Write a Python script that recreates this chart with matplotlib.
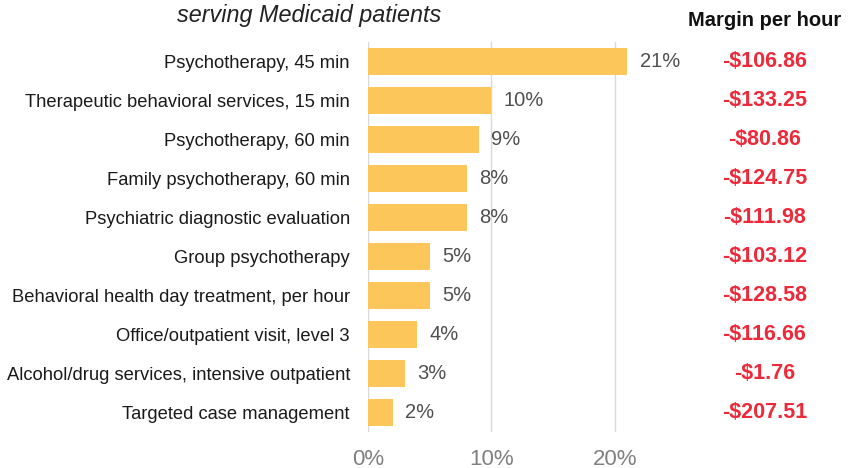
import matplotlib
matplotlib.use('Agg')
from matplotlib import pyplot as plt

# Data
services = ['Psychotherapy, 45 min',
            'Therapeutic behavioral services, 15 min',
            'Psychotherapy, 60 min',
            'Family psychotherapy, 60 min',
            'Psychiatric diagnostic evaluation',
            'Group psychotherapy',
            'Behavioral health day treatment, per hour',
            'Office/outpatient visit, level 3',
            'Alcohol/drug services, intensive outpatient',
            'Targeted case management']
share = [21, 10, 9, 8, 8, 5, 5, 4, 3, 2]
margin = ['-$106.86', '-$133.25', '-$80.86', '-$124.75', '-$111.98',
          '-$103.12', '-$128.58', '-$116.66', '-$1.76', '-$207.51']
xticks = [0, 10, 20]

plt.rcParams['font.family'] = ['Liberation Sans', 'DejaVu Sans']

fig = plt.figure(figsize=(8.53, 4.68), dpi=100)
ax = fig.add_axes([0.4314, 0.077, 0.362, 0.833])

ypos = list(range(len(services)))
ax.barh(ypos, share, height=0.69, color='#fcc65a', zorder=3)
ax.set_ylim(len(services) - 0.5, -0.5)
ax.set_xlim(0, 25)

# Value labels
for y, v in zip(ypos, share):
    ax.text(v + 1.0, y, '%d%%' % v, va='center', ha='left', fontsize=14.5, color='#505050')

# Margin column
for y, m in zip(ypos, margin):
    ax.text(32.1, y, m, va='center', ha='center', fontsize=15.5, color='#ee2a3a',
            fontweight='bold')
ax.text(32.1, -1.05, 'Margin per hour', va='center', ha='center', fontsize=14.5,
        fontweight='bold', color='#111111')

# Title fragment
fig.text(0.362, 0.967, 'serving Medicaid patients', ha='center', va='center',
         fontsize=16.8, style='italic', color='#222222')

ax.set_yticks(ypos)
ax.set_yticklabels(services, fontsize=13.2, color='#1a1a1a')
ax.set_xticks(xticks)
ax.set_xticklabels(['%d%%' % t for t in xticks], fontsize=16, color='#808080')
ax.tick_params(axis='both', length=0)
ax.tick_params(axis='y', pad=13)
ax.tick_params(axis='x', pad=12)
ax.grid(axis='x', color='#d9d9d9', linewidth=1, zorder=0)
for s in ax.spines.values():
    s.set_visible(False)

plt.savefig('out.png', dpi=100)
plt.close(fig)
